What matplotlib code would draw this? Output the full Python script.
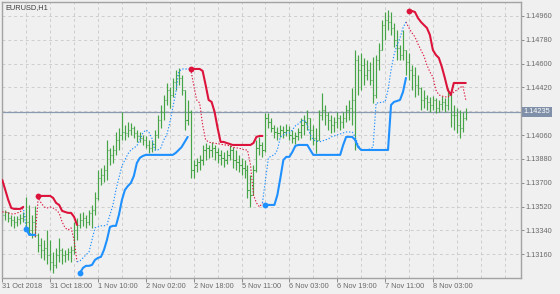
import matplotlib
matplotlib.use("Agg")
import matplotlib.pyplot as plt
from matplotlib import transforms
import numpy as np

# ---------------- data ----------------
chart_title = "EURUSD,H1"

highs = [1.13510, 1.13495, 1.13480, 1.13458, 1.13450, 1.13450, 1.13465, 1.13480, 1.13594, 1.13533,
         1.13458, 1.13525, 1.13322, 1.13284, 1.13269, 1.13344, 1.13269, 1.13178, 1.13209, 1.13284,
         1.13209, 1.13193, 1.13209, 1.13224, 1.13405, 1.13435, 1.13473, 1.13480, 1.13458, 1.13495,
         1.13533, 1.13631, 1.13797, 1.13812, 1.13835, 1.14024, 1.13963, 1.13986, 1.14084, 1.14115,
         1.14235, 1.14137, 1.14160, 1.14152, 1.14130, 1.14099, 1.14084, 1.14062, 1.14054, 1.14024,
         1.14024, 1.14099, 1.14213, 1.14288, 1.14364, 1.14454, 1.14424, 1.14492, 1.14552, 1.14568,
         1.14515, 1.14401, 1.14326, 1.14250, 1.13873, 1.13888, 1.13911, 1.13986, 1.14001, 1.13986,
         1.14009, 1.13986, 1.13963, 1.13948, 1.13933, 1.13948, 1.13986, 1.13971, 1.13948, 1.13911,
         1.13888, 1.13873, 1.13835, 1.13760, 1.13835, 1.14024, 1.14047, 1.14009, 1.14228, 1.14228,
         1.14190, 1.14137, 1.14122, 1.14137, 1.14130, 1.14145, 1.14130, 1.14099, 1.14084, 1.14115,
         1.14190, 1.14213, 1.14250, 1.14190, 1.14137, 1.14115, 1.14250, 1.14379, 1.14288, 1.14235,
         1.14213, 1.14198, 1.14235, 1.14213, 1.14235, 1.14288, 1.14326, 1.14417, 1.14703, 1.14666,
         1.14681, 1.14643, 1.14628, 1.14613, 1.14651, 1.14666, 1.14756, 1.14930, 1.14990, 1.15005,
         1.14990, 1.14907, 1.14854, 1.14741, 1.14854, 1.14703, 1.14681, 1.14590, 1.14575, 1.14515,
         1.14424, 1.14401, 1.14364, 1.14349, 1.14356, 1.14341, 1.14326, 1.14356, 1.14341, 1.14417,
         1.14386, 1.14288, 1.14266, 1.14250, 1.14235, 1.14266]

lows = [1.13397, 1.13419, 1.13405, 1.13375, 1.13360, 1.13375, 1.13390, 1.13405, 1.13344, 1.13307,
        1.13284, 1.13292, 1.13178, 1.13133, 1.13118, 1.13088, 1.13042, 1.13020, 1.13058, 1.13103,
        1.13088, 1.13103, 1.13118, 1.13103, 1.13163, 1.13269, 1.13360, 1.13375, 1.13360, 1.13382,
        1.13360, 1.13458, 1.13570, 1.13684, 1.13706, 1.13721, 1.13835, 1.13850, 1.13911, 1.13948,
        1.14024, 1.14024, 1.14047, 1.14062, 1.14039, 1.14009, 1.14009, 1.13986, 1.13963, 1.13926,
        1.13933, 1.13948, 1.14039, 1.14115, 1.14175, 1.14288, 1.14266, 1.14349, 1.14401, 1.14439,
        1.14364, 1.14099, 1.14137, 1.13737, 1.13737, 1.13782, 1.13797, 1.13835, 1.13873, 1.13888,
        1.13896, 1.13873, 1.13850, 1.13835, 1.13820, 1.13843, 1.13873, 1.13812, 1.13797, 1.13782,
        1.13760, 1.13737, 1.13586, 1.13518, 1.13609, 1.13782, 1.13911, 1.13896, 1.13933, 1.14115,
        1.14084, 1.14039, 1.14024, 1.14047, 1.14039, 1.14054, 1.14024, 1.14001, 1.13994, 1.14024,
        1.14039, 1.14062, 1.14099, 1.14024, 1.13986, 1.13926, 1.14024, 1.14175, 1.14137, 1.14099,
        1.14077, 1.14084, 1.14115, 1.14099, 1.14115, 1.14160, 1.14175, 1.14137, 1.13948, 1.14364,
        1.14401, 1.14439, 1.14477, 1.14439, 1.14303, 1.14341, 1.14552, 1.14703, 1.14779, 1.14854,
        1.14817, 1.14726, 1.14628, 1.14628, 1.14628, 1.14515, 1.14477, 1.14401, 1.14349, 1.14364,
        1.14250, 1.14266, 1.14250, 1.14235, 1.14250, 1.14228, 1.14235, 1.14250, 1.14235, 1.14250,
        1.14122, 1.14099, 1.14077, 1.14039, 1.14084, 1.14175]

closes = [1.13458, 1.13480, 1.13435, 1.13419, 1.13405, 1.13428, 1.13435, 1.13450, 1.13405, 1.13344,
          1.13405, 1.13307, 1.13231, 1.13193, 1.13209, 1.13156, 1.13103, 1.13080, 1.13156, 1.13193,
          1.13156, 1.13163, 1.13178, 1.13193, 1.13344, 1.13382, 1.13419, 1.13435, 1.13405, 1.13473,
          1.13495, 1.13586, 1.13737, 1.13760, 1.13797, 1.13948, 1.13911, 1.13948, 1.14024, 1.14062,
          1.14084, 1.14077, 1.14099, 1.14115, 1.14077, 1.14054, 1.14039, 1.14024, 1.13986, 1.13963,
          1.13994, 1.14062, 1.14175, 1.14235, 1.14326, 1.14401, 1.14364, 1.14462, 1.14515, 1.14492,
          1.14401, 1.14175, 1.14235, 1.13797, 1.13835, 1.13858, 1.13873, 1.13948, 1.13963, 1.13948,
          1.13963, 1.13933, 1.13911, 1.13888, 1.13873, 1.13911, 1.13948, 1.13873, 1.13858, 1.13835,
          1.13812, 1.13797, 1.13646, 1.13609, 1.13797, 1.13963, 1.13986, 1.13948, 1.14190, 1.14160,
          1.14115, 1.14084, 1.14077, 1.14099, 1.14084, 1.14099, 1.14062, 1.14039, 1.14054, 1.14084,
          1.14137, 1.14160, 1.14190, 1.14099, 1.14039, 1.14024, 1.14213, 1.14250, 1.14213, 1.14175,
          1.14137, 1.14160, 1.14190, 1.14160, 1.14190, 1.14250, 1.14266, 1.14326, 1.14628, 1.14552,
          1.14590, 1.14515, 1.14552, 1.14477, 1.14364, 1.14628, 1.14703, 1.14892, 1.14930, 1.14915,
          1.14870, 1.14779, 1.14719, 1.14666, 1.14703, 1.14613, 1.14552, 1.14515, 1.14439, 1.14417,
          1.14326, 1.14341, 1.14311, 1.14288, 1.14326, 1.14266, 1.14296, 1.14311, 1.14288, 1.14364,
          1.14213, 1.14213, 1.14137, 1.14115, 1.14190, 1.14235]

first_open = 1.13480
current_price = 1.14235

y_tick_values = [1.14960, 1.14780, 1.14600, 1.14420, 1.14060, 1.13880, 1.13700, 1.13520, 1.13340, 1.13160]
grid_prices = y_tick_values + [1.14240]

x_tick_bars = [0, 16, 32, 48, 64, 80, 96, 112, 128, 144]
x_tick_labels = ["31 Oct 2018", "31 Oct 18:00", "1 Nov 10:00", "2 Nov 02:00", "2 Nov 18:00",
                 "5 Nov 11:00", "6 Nov 03:00", "6 Nov 19:00", "7 Nov 11:00", "8 Nov 03:00"]

# indicator segments: (first bar index, values)
red_solid = [
    (0, [1.13721, 1.13646, 1.13570, 1.13510, 1.13503, 1.13503, 1.13503, 1.13518]),
    (12, [1.13601, 1.13601, 1.13601, 1.13601, 1.13601, 1.13586, 1.13548, 1.13533, 1.13488,
          1.13480, 1.13473, 1.13473, 1.13443, 1.13382]),
    (63, [1.14560, 1.14560, 1.14560, 1.14560, 1.14545, 1.14439, 1.14326, 1.14311, 1.14235,
          1.14115, 1.14009, 1.14009, 1.14001, 1.13994, 1.13986, 1.13986, 1.13986, 1.13986,
          1.13986, 1.13986, 1.13986, 1.14001, 1.14047, 1.14054, 1.14054]),
    (136, [1.14998, 1.14998, 1.14990, 1.14945, 1.14915, 1.14892, 1.14870, 1.14817, 1.14703,
           1.14666, 1.14643, 1.14575, 1.14492, 1.14401, 1.14364, 1.14454, 1.14454, 1.14454,
           1.14454, 1.14454]),
]

red_dotted = [
    (0, [1.13480, 1.13480, 1.13473, 1.13465, 1.13465, 1.13473, 1.13480, 1.13510]),
    (11, [1.13292, 1.13586, 1.13548, 1.13518, 1.13510, 1.13518, 1.13510, 1.13495, 1.13473,
          1.13405, 1.13360, 1.13344, 1.13360, 1.13269, 1.13103]),
    (63, [1.14560, 1.14439, 1.14326, 1.14303, 1.14137, 1.14024, 1.14009, 1.14001, 1.14001,
          1.13994, 1.13994, 1.13986, 1.13986, 1.13979, 1.13971, 1.13963, 1.13963, 1.13956,
          1.13948, 1.13948, 1.13835, 1.13609, 1.13548, 1.13518, 1.13548]),
    (135, [1.14915, 1.14870, 1.14832, 1.14802, 1.14749, 1.14703, 1.14658, 1.14590, 1.14537,
           1.14500, 1.14401, 1.14364, 1.14356, 1.14349, 1.14349, 1.14364, 1.14386, 1.14401,
           1.14417, 1.14432, 1.14326]),
]

blue_solid = [
    (8, [1.13352, 1.13307, 1.13307, 1.13307]),
    (26, [1.13020, 1.13058, 1.13073, 1.13073, 1.13080, 1.13118, 1.13133, 1.13141, 1.13193,
          1.13269, 1.13367, 1.13375, 1.13375, 1.13458, 1.13570, 1.13646, 1.13676, 1.13699,
          1.13752, 1.13850, 1.13888, 1.13903, 1.13911, 1.13911, 1.13911, 1.13911, 1.13911,
          1.13911, 1.13911, 1.13911, 1.13911, 1.13911, 1.13926, 1.13948, 1.13971, 1.14009,
          1.14047]),
    (88, [1.13533, 1.13533, 1.13533, 1.13533, 1.13609, 1.13737, 1.13873, 1.13896, 1.13896,
          1.13933, 1.13979, 1.13986, 1.13986, 1.13986, 1.13986, 1.13948, 1.13911, 1.13911,
          1.13911, 1.13911, 1.13911, 1.13911, 1.13911, 1.13911, 1.13911, 1.13911, 1.13986,
          1.14047, 1.14047, 1.14047, 1.14024, 1.13971, 1.13948, 1.13948, 1.13948, 1.13948,
          1.13948, 1.13948, 1.13948, 1.13948, 1.13948, 1.13948, 1.14288, 1.14311, 1.14318,
          1.14326, 1.14386, 1.14492]),
]

blue_dotted = [
    (7, [1.13518, 1.13352, 1.13322, 1.13307, 1.13292]),
    (25, [1.13103, 1.13111, 1.13133, 1.13156, 1.13178, 1.13269, 1.13360, 1.13367, 1.13375,
          1.13375, 1.13382, 1.13458, 1.13533, 1.13646, 1.13737, 1.13828, 1.13873, 1.13918,
          1.13948, 1.13963, 1.13979, 1.14024, 1.14077, 1.14099, 1.14084, 1.14039, 1.13948,
          1.13948, 1.13963, 1.14024, 1.14062, 1.14152, 1.14266, 1.14379, 1.14537, 1.14560,
          1.14560, 1.14560, 1.14560]),
    (87, [1.13548, 1.13721, 1.13888, 1.13903, 1.13911, 1.13948, 1.14047, 1.14062, 1.14077,
          1.14077, 1.14099, 1.14130, 1.14145, 1.14167, 1.14175, 1.14137, 1.14062, 1.14024,
          1.14016, 1.14009, 1.14016, 1.14024, 1.14031, 1.14047, 1.14054, 1.14062, 1.14069,
          1.14077, 1.14084, 1.14084, 1.14084, 1.14047, 1.13986, 1.13948, 1.13948, 1.13948,
          1.13956, 1.13971, 1.14303, 1.14303, 1.14311, 1.14311, 1.14401, 1.14552, 1.14666,
          1.14741, 1.14794, 1.14870, 1.14915]),
]

red_dots = [(12, 1.13601), (63, 1.14560), (136, 1.14998)]
blue_dots = [(8, 1.13352), (26, 1.13020), (88, 1.13533)]

# ---------------- style ----------------
BG = "#f0f0f0"
GRID = "#cdcdcd"
FRAME = "#a3a3a3"
TXT = "#6a6a6a"
GREEN = "#46a446"
RED = "#dc143c"
BLUE = "#1e90ff"
PRICE_LINE = "#8a9ab0"
FS = 5.3

plt.rcParams["font.family"] = ["Liberation Sans", "DejaVu Sans"]

fig = plt.figure(figsize=(5.6, 2.94), dpi=100)
fig.patch.set_facecolor(BG)
ax = fig.add_axes([2 / 560, 1 - 277.5 / 294, 518.5 / 560, 275.5 / 294])
ax.set_facecolor(BG)
ax.set_xlim(-0.1, 173.3)
ax.set_ylim(1.129849, 1.150657)

# grid
for p in grid_prices:
    ax.axhline(p, color=GRID, lw=0.7, ls=(0, (3, 3)), zorder=0)
for gx in range(8, 176, 8):
    ax.axvline(gx, color=GRID, lw=0.7, ls=(0, (3, 3)), zorder=0)

# current price line
ax.axhline(current_price, color=PRICE_LINE, lw=0.9, zorder=1)

# OHLC bars
n = len(closes)
xs = np.arange(n)
opens = np.r_[first_open, np.array(closes[:-1])]
ax.vlines(xs, lows, highs, color=GREEN, lw=0.85, zorder=2)
ax.hlines(opens, xs - 0.4, xs, color=GREEN, lw=0.75, zorder=2)
ax.hlines(closes, xs, xs + 0.4, color=GREEN, lw=0.75, zorder=2)

# indicator lines
def draw(segs, color, lw, ls):
    for start, vals in segs:
        sx = np.arange(start, start + len(vals))
        ax.plot(sx, vals, color=color, lw=lw, ls=ls, zorder=3,
                solid_capstyle="round", dash_capstyle="butt")

draw(red_dotted, RED, 0.8, (0, (1.2, 1.6)))
draw(blue_dotted, BLUE, 0.8, (0, (1.2, 1.6)))
draw(red_solid, RED, 1.5, "-")
draw(blue_solid, BLUE, 1.5, "-")

ax.plot([d[0] for d in red_dots], [d[1] for d in red_dots], "o", color=RED, ms=4.2, zorder=4, mec="none")
ax.plot([d[0] for d in blue_dots], [d[1] for d in blue_dots], "o", color=BLUE, ms=4.2, zorder=4, mec="none")

# axes styling
for s in ax.spines.values():
    s.set_color(FRAME)
    s.set_linewidth(1.0)

ax.yaxis.tick_right()
ax.set_yticks(y_tick_values)
ax.set_yticklabels([f"{v:.5f}" for v in y_tick_values])
ax.tick_params(axis="y", length=2.5, width=0.7, color="#8a8a8a", pad=1.2,
               labelsize=FS, labelcolor=TXT)

ax.set_xticks(x_tick_bars)
ax.set_xticklabels(x_tick_labels)
ax.tick_params(axis="x", length=3, width=0.7, color="#8a8a8a", pad=1.0,
               labelsize=FS, labelcolor=TXT)
for lbl in ax.get_xticklabels():
    lbl.set_horizontalalignment("left")

# current price label box
trans = transforms.blended_transform_factory(ax.transAxes, ax.transData)
ax.annotate(f"{current_price:.5f}", xy=(1.0, current_price), xycoords=trans,
            xytext=(2.2, 0), textcoords="offset points", ha="left", va="center",
            fontsize=FS, color="white",
            bbox=dict(boxstyle="square,pad=0.25", fc="#7f90a8", ec="none"),
            annotation_clip=False)

# title
ax.text(0.006, 0.992, chart_title, transform=ax.transAxes, ha="left", va="top",
        fontsize=FS, color="#3c3c3c")

fig.savefig("out.png", dpi=100, facecolor=BG)
